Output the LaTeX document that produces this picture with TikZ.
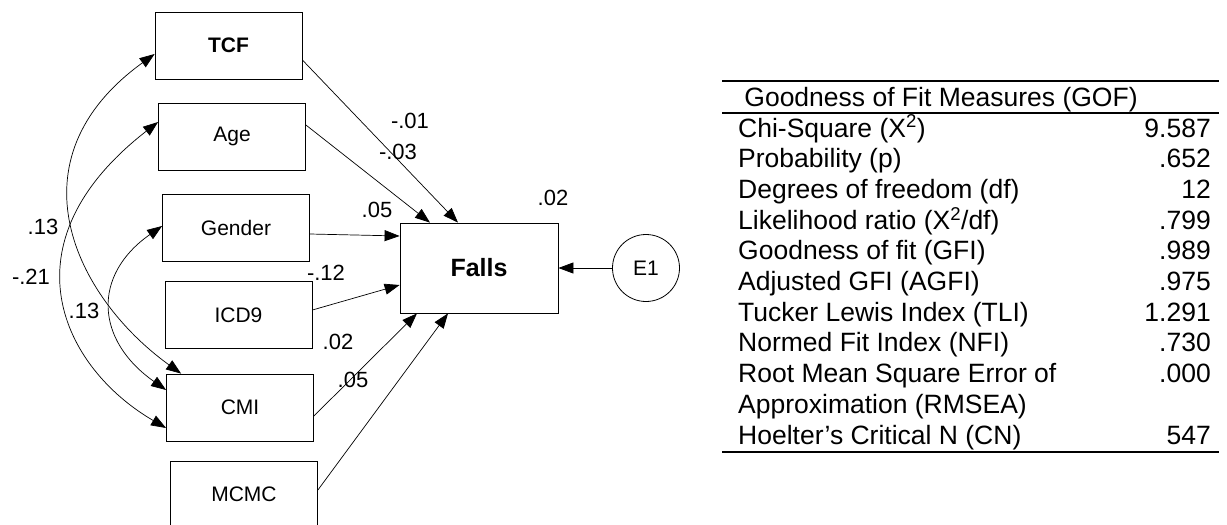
\documentclass[tikz,border=0pt]{standalone}
\usepackage{fontspec}
\setmainfont{Liberation Sans}
\usetikzlibrary{arrows.meta,calc}
\tikzset{
  box/.style={draw, line width=0.8pt, minimum width=147pt, minimum height=67pt, inner sep=0pt, font=\fontsize{21}{25}\selectfont},
  lbl/.style={font=\fontsize{22}{26}\selectfont, inner sep=0pt},
  pth/.style={-{Triangle[length=15pt,width=11pt]}, line width=0.7pt},
  cov/.style={{Triangle[length=15pt,width=11pt]}-{Triangle[length=15pt,width=11pt]}, line width=0.7pt},
  row/.style={font=\fontsize{26.5}{30}\selectfont, inner sep=0pt},
  rulez/.style={line width=2pt},
}
\begin{document}
\begin{tikzpicture}[x=1pt,y=-1pt]
\useasboundingbox (0,0) rectangle (1227,525);
% boxes
\node[box] (TCF) at (228.5,45.5) {\textbf{TCF}};
\node[box] (Age) at (232,136.5) {Age};
\node[box] (Gender) at (236,227.5) {Gender};
\node[box] (ICD) at (238.5,315) {ICD9};
\node[box] (CMI) at (240,407.5) {CMI};
\node[box] (MCMC) at (244,494.5) {MCMC};
\node[draw, line width=0.8pt, minimum width=158pt, minimum height=90pt, inner sep=0pt, font=\fontsize{25}{29}\selectfont\bfseries] (Falls) at (479,268) {Falls};
\node[draw, circle, line width=0.8pt, minimum size=67pt, inner sep=0pt, font=\fontsize{21}{25}\selectfont] (E1) at (646,268) {E1};
% paths
\draw[pth] ([yshift=-14.5pt]TCF.east) -- ([xshift=-21pt]Falls.north);
\draw[pth] ([yshift=11.5pt]Age.east) -- ([xshift=-49pt]Falls.north);
\draw[pth] ([yshift=-6.5pt]Gender.east) -- ([yshift=32pt]Falls.west);
\draw[pth] ([yshift=5pt]ICD.east) -- ([yshift=-17pt]Falls.west);
\draw[pth] ([yshift=-8.5pt]CMI.east) -- ([xshift=-62pt]Falls.south);
\draw[pth] ([yshift=4.5pt]MCMC.east) -- ([xshift=-31pt]Falls.south);
\draw[pth] (E1.west) -- (Falls.east);
% covariances
\draw[cov] ([yshift=-8.5pt]TCF.west) .. controls (8,160) and (75,297) .. ([xshift=15pt]CMI.north west);
\draw[cov] ([yshift=14.5pt]Age.west) .. controls (1,244) and (63,368) .. ([yshift=-20.5pt]CMI.west);
\draw[cov] ([yshift=1.5pt]Gender.west) .. controls (92,275) and (95,340) .. ([yshift=17.5pt]CMI.west);
% labels
\node[lbl] (l1) at (410,121) {-.01};
\node[lbl] (l2) at (398,152) {-.03};
\node[lbl] (l3) at (377,210) {.05};
\node[lbl] (l4) at (553,198) {.02};
\node[lbl] (l5) at (326,273) {-.12};
\node[lbl] (l6) at (338,342) {.02};
\node[lbl] (l7) at (353,380) {.05};
\node[lbl] (l8) at (43,227) {.13};
\node[lbl] (l9) at (31,277) {-.21};
\node[lbl] (l10) at (84,311) {.13};
% table
\coordinate (r1a) at (722,81);  \coordinate (r1b) at (1219,81);
\coordinate (r2a) at (722,113); \coordinate (r2b) at (1219,113);
\coordinate (r3a) at (722,452); \coordinate (r3b) at (1219,452);
\draw[rulez] (r1a) -- (r1b);
\draw[rulez] (r2a) -- (r2b);
\draw[rulez] (r3a) -- (r3b);
\node[row, anchor=base] (title) at (941,106) {Goodness of Fit Measures (GOF)};
\node[row, anchor=base west] (t1) at (738,137) {Chi-Square (X\textsuperscript{2})};
\node[row, anchor=base west] (t2) at (738,167.7) {Probability (p)};
\node[row, anchor=base west] (t3) at (738,198.4) {Degrees of freedom (df)};
\node[row, anchor=base west] (t4) at (738,229.1) {Likelihood ratio (X\textsuperscript{2}/df)};
\node[row, anchor=base west] (t5) at (738,259.8) {Goodness of fit (GFI)};
\node[row, anchor=base west] (t6) at (738,290.5) {Adjusted GFI (AGFI)};
\node[row, anchor=base west] (t7) at (738,321.2) {Tucker Lewis Index (TLI)};
\node[row, anchor=base west] (t8) at (738,351.9) {Normed Fit Index (NFI)};
\node[row, anchor=base west] (t9) at (738,382.6) {Root Mean Square Error of};
\node[row, anchor=base west] (t10) at (738,413.3) {Approximation (RMSEA)};
\node[row, anchor=base west] (t11) at (738,444) {Hoelter’s Critical N (CN)};
\node[row, anchor=base east] (v1) at (1211,137) {9.587};
\node[row, anchor=base east] (v2) at (1211,167.7) {.652};
\node[row, anchor=base east] (v3) at (1211,198.4) {12};
\node[row, anchor=base east] (v4) at (1211,229.1) {.799};
\node[row, anchor=base east] (v5) at (1211,259.8) {.989};
\node[row, anchor=base east] (v6) at (1211,290.5) {.975};
\node[row, anchor=base east] (v7) at (1211,321.2) {1.291};
\node[row, anchor=base east] (v8) at (1211,351.9) {.730};
\node[row, anchor=base east] (v9) at (1211,382.6) {.000};
\node[row, anchor=base east] (v11) at (1211,444) {547};
\end{tikzpicture}
\end{document}
